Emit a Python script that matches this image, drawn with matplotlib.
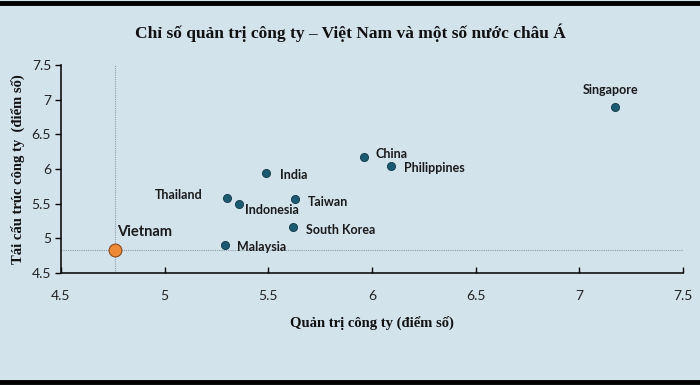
import matplotlib.pyplot as plt
from matplotlib.lines import Line2D

# du lieu doc tu hinh
countries = ['Singapore', 'China', 'Philippines', 'India', 'Thailand',
             'Indonesia', 'Taiwan', 'South Korea', 'Malaysia']
quan_tri = [7.17, 5.96, 6.09, 5.49, 5.30, 5.36, 5.63, 5.62, 5.29]
tai_cau_truc = [6.90, 6.18, 6.04, 5.94, 5.58, 5.49, 5.57, 5.16, 4.91]
vn_x, vn_y = 4.76, 4.83

# vi tri nhan (pixel so voi diem)
offsets = {
    'Singapore': (-4, 17, 'center'),
    'China': (12, 3, 'left'),
    'Philippines': (13, -2, 'left'),
    'India': (14, -2, 'left'),
    'Thailand': (-24, 3, 'right'),
    'Indonesia': (6, -6, 'left'),
    'Taiwan': (13, -3, 'left'),
    'South Korea': (13, -3, 'left'),
    'Malaysia': (12, -2, 'left'),
}

bg = '#d3e3ec'
fig = plt.figure(figsize=(7, 3.85), dpi=100, facecolor=bg)
ax = fig.add_axes([0.087, 0.291, 0.889, 0.54])
ax.set_facecolor(bg)

ax.plot([vn_x, vn_x], [4.5, 7.5], color='#8f9fa9', lw=0.8, ls=(0, (1, 1)), zorder=1)
ax.plot([4.5, 7.5], [vn_y, vn_y], color='#8f9fa9', lw=0.8, ls=(0, (1, 1)), zorder=1)

ax.scatter(quan_tri, tai_cau_truc, s=34, color='#1b5b72', edgecolors='#0e3443',
           linewidths=0.6, zorder=3)
ax.scatter([vn_x], [vn_y], s=85, color='#ee8a36', edgecolors='#8a4a1c',
           linewidths=0.8, zorder=3)

lab_font = ['Lato', 'DejaVu Sans']
for c, x, y in zip(countries, quan_tri, tai_cau_truc):
    dx, dy, ha = offsets[c]
    ax.annotate(c, (x, y), xytext=(dx, dy), textcoords='offset pixels',
                ha=ha, va='center', fontsize=9, fontweight='bold',
                color='#1a1a1a', family=lab_font)
ax.annotate('Vietnam', (vn_x, vn_y), xytext=(2, 18), textcoords='offset pixels',
            ha='left', va='center', fontsize=10.5, fontweight='bold',
            color='#1a1a1a', family=lab_font)

ax.set_xlim(4.5, 7.5)
ax.set_ylim(4.5, 7.5)
ax.set_xticks([4.5, 5, 5.5, 6, 6.5, 7, 7.5])
ax.set_xticklabels(['4.5', '5', '5.5', '6', '6.5', '7', '7.5'])
ax.set_yticks([4.5, 5, 5.5, 6, 6.5, 7, 7.5])
ax.set_yticklabels(['4.5', '5', '5.5', '6', '6.5', '7', '7.5'])
for s in ['top', 'right']:
    ax.spines[s].set_visible(False)
for s in ['left', 'bottom']:
    ax.spines[s].set_linewidth(1.2)
    ax.spines[s].set_color('#111111')
ax.tick_params(axis='x', direction='in', length=4, width=1, pad=12,
               labelsize=10, labelcolor='#222222')
ax.tick_params(axis='y', direction='out', length=4, width=1, pad=3,
               labelsize=10, labelcolor='#222222')
for t in ax.get_xticklabels() + ax.get_yticklabels():
    t.set_family(lab_font)

serif = ['Liberation Serif', 'DejaVu Serif']
ax.set_xlabel('Quản trị công ty (điểm số)', family=serif, fontweight='bold',
              fontsize=10.5, labelpad=10, color='#111111')
ax.set_ylabel('Tái cấu trúc công ty  (điểm số)', family=serif, fontweight='bold',
              fontsize=10.5, labelpad=5, color='#111111')
fig.text(0.5, 1 - 33 / 385, 'Chỉ số quản trị công ty – Việt Nam và một số nước châu Á',
         ha='center', va='center', family=serif, fontweight='bold', fontsize=12.5,
         color='#111111')

# vien tren/duoi
for yy in [1 - 3 / 385, 3 / 385]:
    fig.add_artist(Line2D([0, 1], [yy, yy], transform=fig.transFigure,
                          color='black', lw=3.5))

fig.savefig('out.png', dpi=100, facecolor=bg)
